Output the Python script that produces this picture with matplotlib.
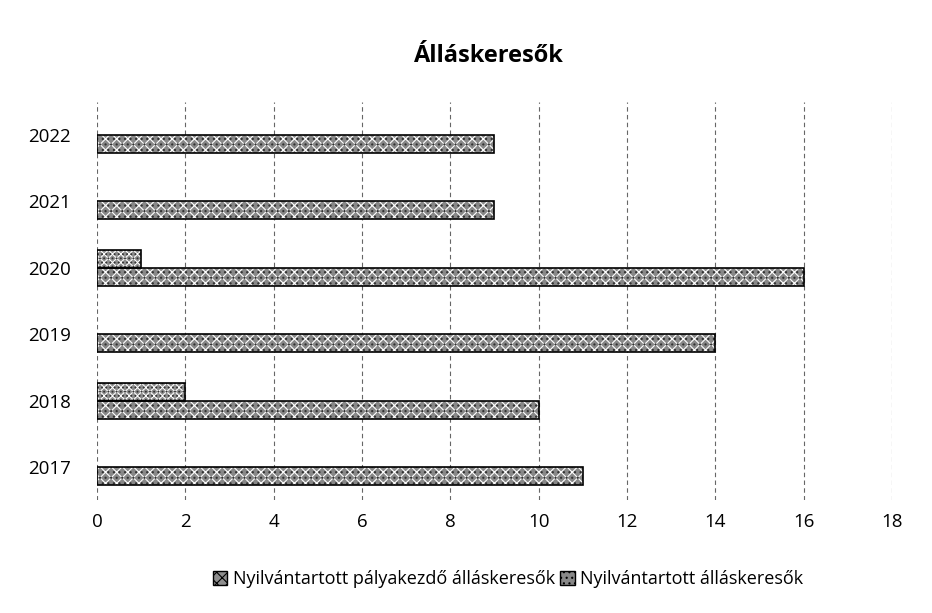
import numpy as np
import matplotlib.pyplot as plt
from matplotlib.patches import Patch

years = ["2017", "2018", "2019", "2020", "2021", "2022"]
palyakezdo = [0, 2, 0, 1, 0, 0]
allaskeresok = [11, 10, 14, 16, 9, 9]
labels = ["Nyilvántartott pályakezdő álláskeresők", "Nyilvántartott álláskeresők"]

plt.rcParams['font.family'] = ['Open Sans', 'DejaVu Sans']
plt.rcParams['hatch.linewidth'] = 0.8

fig = plt.figure(figsize=(9.32, 6.13), dpi=100)
ax = fig.add_axes([0.104, 0.184, 0.853, 0.65])

y = np.arange(len(years))
h = 0.27

def hatched_bars(pos, vals, face, hatch1, hatch2):
    # grey fill with white + dark speckle (scanned look), then black outline
    lw = [1.2 if v > 0 else 0 for v in vals]
    ax.barh(pos, vals, height=h, color=face, edgecolor="white", hatch=hatch1, linewidth=0, zorder=2)
    ax.barh(pos, vals, height=h, color="none", edgecolor="#333333", hatch=hatch2, linewidth=0, zorder=2)
    ax.barh(pos, vals, height=h, color="none", edgecolor="black", linewidth=lw, zorder=3)

hatched_bars(y + h / 2, palyakezdo, "#8e8e8e", "xxxx", "....")
hatched_bars(y - h / 2, allaskeresok, "#888888", "xxx", "...")

handles = [Patch(facecolor="#8e8e8e", edgecolor="black", hatch="xxx"),
           Patch(facecolor="#888888", edgecolor="black", hatch="...")]

ax.set_xlim(0, 18)
ax.set_ylim(-0.5, 5.5)
ax.set_xticks(range(0, 19, 2))
ax.set_yticks(y)
ax.set_yticklabels(years)
ax.tick_params(axis="both", length=0, labelsize=13.5)
ax.tick_params(axis="y", pad=19)
ax.tick_params(axis="x", pad=9)
for s in ax.spines.values():
    s.set_visible(False)
ax.grid(axis="x", linestyle=(0, (4, 3)), color="#666666", linewidth=0.8, zorder=0)

fig.text(0.525, 0.908, "Álláskeresők", ha="center", va="center", fontsize=17, fontweight="bold")

fig.legend(handles, labels, loc="center", bbox_to_anchor=(0.545, 0.055), ncol=2,
           frameon=False, fontsize=13, handlelength=0.8, handleheight=0.8,
           handletextpad=0.3, columnspacing=0.3)

fig.savefig("out.png", dpi=100, facecolor="white")
